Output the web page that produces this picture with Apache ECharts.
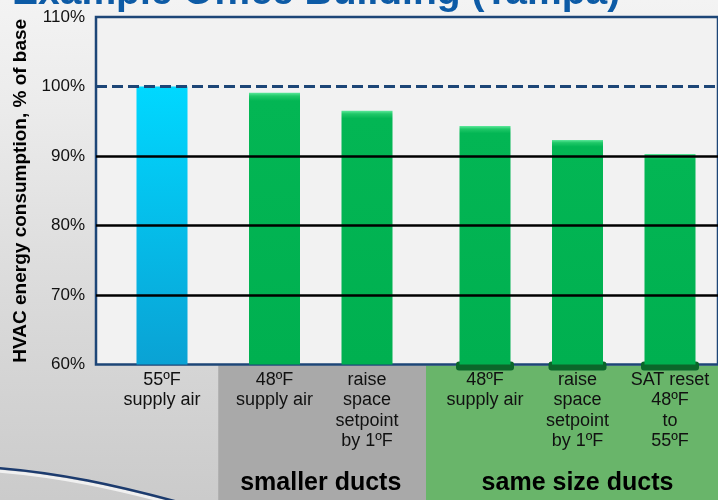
<!DOCTYPE html>
<html>
<head>
<meta charset="utf-8">
<script src="https://cdn.jsdelivr.net/npm/echarts@6/dist/echarts.min.js"></script>
<style>
html,body{margin:0;padding:0;}
#chart{width:718px;height:500px;}
</style>
</head>
<body>
<div id="chart"></div>
<script>
// ---- data ----
const titleText = 'Example Office Building (Tampa)';
const yAxisName = 'HVAC energy consumption, % of base';
const categories = [
  '55ºF\nsupply air',
  '48ºF\nsupply air',
  'raise\nspace\nsetpoint\nby 1ºF',
  '48ºF\nsupply air',
  'raise\nspace\nsetpoint\nby 1ºF',
  'SAT reset\n48ºF\nto\n55ºF'
];
const values = [100, 99.1, 96.5, 94.3, 92.3, 90.3];
const groupOf = [0, 1, 1, 2, 2, 2];
const groupNames = ['', 'smaller ducts', 'same size ducts'];
const yTickValues = [60, 70, 80, 90, 100, 110];
const yTickLabels = ['60%', '70%', '80%', '90%', '100%', '110%'];
const gridLineValues = [70, 80, 90];
const baseLineValue = 100;

// ---- layout / style ----
const FONT = "'Liberation Sans', Arial, sans-serif";
const TOP = 17, BOTTOM = 135.5;
const groupGrids = [
  { left: 115.75, width: 92.5 },
  { left: 228.25, width: 185 },
  { left: 438.75, width: 277.5 }
];
const cyan = new echarts.graphic.LinearGradient(0, 0, 0, 1, [
  { offset: 0, color: '#00d8ff' }, { offset: 1, color: '#0aa2d4' }
]);
const green = new echarts.graphic.LinearGradient(0, 0, 0, 1, [
  { offset: 0, color: '#5ce89a' }, { offset: 0.012, color: '#20c868' },
  { offset: 0.03, color: '#03b654' }, { offset: 1, color: '#00b050' }
]);

const chart = echarts.init(document.getElementById('chart'), null, { renderer: 'canvas' });

const grids = [{ left: 96, right: -40, top: TOP, bottom: BOTTOM, show: true,
  backgroundColor: '#f2f2f2', borderColor: '#1d4677', borderWidth: 2.5, z: 0 }];
const xAxes = [{ gridIndex: 0, type: 'value', min: 0, max: 1, show: false }];
const yAxes = [{
  gridIndex: 0, type: 'value', min: yTickValues[0], max: yTickValues[yTickValues.length - 1],
  interval: 10,
  name: yAxisName, nameLocation: 'middle', nameGap: 55,
  nameTextStyle: { fontFamily: FONT, fontSize: 19, fontWeight: 'bold', color: '#000' },
  axisLine: { show: false }, axisTick: { show: false }, splitLine: { show: false },
  axisLabel: { margin: 11, fontFamily: FONT, fontSize: 17, color: '#111',
    formatter: v => yTickLabels[yTickValues.indexOf(v)] }
}];
const series = [{
  type: 'line', xAxisIndex: 0, yAxisIndex: 0, data: [], z: 1, silent: true,
  markLine: {
    silent: true, symbol: 'none', label: { show: false },
    data: gridLineValues.map(v => ({ yAxis: v, lineStyle: { color: '#000', width: 2.5, type: 'solid' } }))
      .concat([{ yAxis: baseLineValue, lineStyle: { color: '#1d4677', width: 3, type: [11, 5] } }])
  }
}];

const groupCats = [];
groupGrids.forEach((g, gi) => {
  const idx = categories.map((c, i) => i).filter(i => groupOf[i] === gi);
  groupCats.push(idx);
  const axisIdx = gi + 1;
  grids.push({ left: g.left, width: g.width, top: TOP, bottom: BOTTOM });
  xAxes.push({
    gridIndex: axisIdx, type: 'category', data: idx.map(i => categories[i]),
    axisLine: { show: false }, axisTick: { show: false },
    axisLabel: { margin: 5, fontFamily: FONT, fontSize: 18, lineHeight: 20.5, color: '#111', interval: 0 }
  });
  yAxes.push({ gridIndex: axisIdx, type: 'value', min: 60, max: 110, show: false });
  series.push({
    type: 'bar', xAxisIndex: axisIdx, yAxisIndex: axisIdx, z: 3, barWidth: 51,
    data: idx.map(i => ({ value: values[i], itemStyle: { color: groupOf[i] === 0 ? cyan : green } })),
    itemStyle: { shadowColor: 'rgba(0,0,0,0.35)', shadowBlur: 4, shadowOffsetX: 1.5 }
  });
  if (gi === 2) {
    series.push({
      type: 'custom', xAxisIndex: axisIdx, yAxisIndex: axisIdx, z: 2, silent: true,
      data: idx.map((i, k) => [k, values[i]]),
      renderItem: (params, api) => {
        const p = api.coord([api.value(0), 60]);
        return { type: 'rect', shape: { x: p[0] - 29, y: p[1] - 3, width: 58, height: 9, r: 3 },
          style: { fill: '#0b672a' } };
      }
    });
  }
});

chart.setOption({
  backgroundColor: new echarts.graphic.LinearGradient(0, 0, 0, 1, [
    { offset: 0, color: '#f3f3f3' }, { offset: 0.2, color: '#ececec' },
    { offset: 0.6, color: '#dadada' }, { offset: 1, color: '#cbcbcb' }
  ]),
  animation: false,
  title: { text: titleText, left: 7, top: -31,
    textStyle: { fontFamily: FONT, fontSize: 39, fontWeight: 'bold', color: '#0d5ba6' } },
  grid: grids, xAxis: xAxes, yAxis: yAxes, series: series
});

// group boxes below the axis, positioned from category pixel positions
const centers = categories.map((c, i) => {
  const gi = groupOf[i];
  const k = groupCats[gi].indexOf(i);
  return chart.convertToPixel({ xAxisIndex: gi + 1 }, k);
});
const axisY = chart.convertToPixel({ yAxisIndex: 0 }, 60);
const boxColors = [null, '#a9a9a9', '#69b56a'];
const graphics = [];
groupNames.forEach((name, gi) => {
  if (!name) return;
  const idx = groupCats[gi];
  const first = idx[0], last = idx[idx.length - 1];
  const x0 = (centers[first - 1] + centers[first]) / 2;
  const x1 = last + 1 < categories.length ? (centers[last] + centers[last + 1]) / 2 : 720;
  const cx = idx.reduce((s, i) => s + centers[i], 0) / idx.length;
  graphics.push({ type: 'rect', z: -1, silent: true,
    shape: { x: x0, y: axisY + 1, width: x1 - x0, height: 500 - axisY },
    style: { fill: boxColors[gi] } });
  graphics.push({ type: 'text', z: 10, silent: true, x: cx, y: 483,
    style: { text: name, fill: '#000', font: "bold 25px " + FONT, align: 'center', verticalAlign: 'middle' } });
});
graphics.push({ type: 'bezierCurve', z: -1, silent: true,
  shape: { x1: -2, y1: 471, cpx1: 60, cpy1: 476, cpx2: 115, cpy2: 488, x2: 178, y2: 505 },
  style: { stroke: 'rgba(255,255,255,0.7)', lineWidth: 3, fill: null } });
graphics.push({ type: 'bezierCurve', z: -1, silent: true,
  shape: { x1: -2, y1: 468, cpx1: 60, cpy1: 473, cpx2: 115, cpy2: 485, x2: 178, y2: 502 },
  style: { stroke: '#1c3b6e', lineWidth: 2.5, fill: null } });
chart.setOption({ graphic: graphics });
</script>
</body>
</html>
